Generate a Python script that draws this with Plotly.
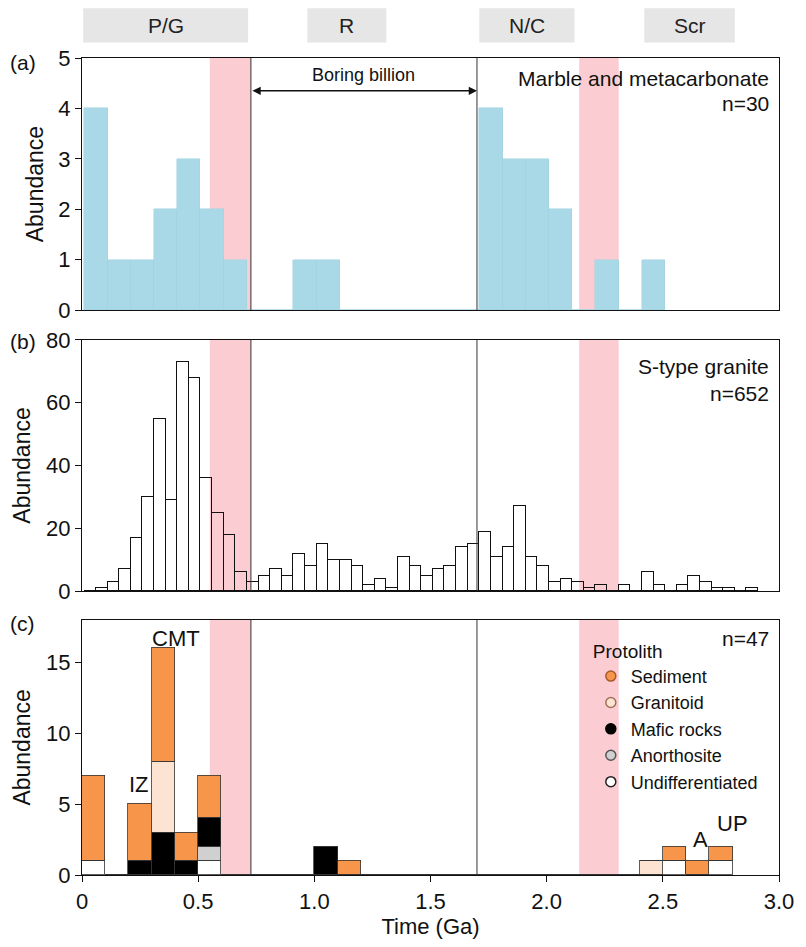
import numpy as np
import plotly.graph_objects as go
from plotly.subplots import make_subplots

# ---------------- data ----------------
# (a) Marble and metacarbonate, 0.1 Ga bins starting at 0.01 Ga
A_START, A_WIDTH = 0.01, 0.1
a_counts = [4, 1, 1, 2, 3, 2, 1, 0, 0, 1, 1, 0, 0, 0, 0, 0, 0,
            4, 3, 3, 2, 0, 1, 0, 1]

# (b) S-type granite, 0.05 Ga bins starting at 0.01 Ga
B_START, B_WIDTH = 0.01, 0.05
b_counts = [0, 1, 3, 7, 17, 30, 55, 29, 73, 68, 36, 25, 18, 6, 3, 5, 7, 5,
            12, 8, 15, 10, 10, 8, 2, 4, 1, 11, 8, 5, 7, 8, 14, 15, 19, 11,
            14, 27, 11, 8, 3, 4, 3, 1, 2, 0, 2, 0, 6, 2, 0, 2, 5, 3, 1, 1,
            0, 1]

# (c) protolith, 0.1 Ga bins starting at 0
C_START, C_WIDTH = 0.0, 0.1
c_undiff   = [1, 0, 0, 0, 0, 1, 0, 0, 0, 0, 0, 0, 0, 0, 0, 0, 0, 0, 0, 0, 0, 0, 0, 0, 0, 1, 0, 1]
c_anorth   = [0, 0, 0, 0, 0, 1, 0, 0, 0, 0, 0, 0, 0, 0, 0, 0, 0, 0, 0, 0, 0, 0, 0, 0, 0, 0, 0, 0]
c_mafic    = [0, 0, 1, 3, 1, 2, 0, 0, 0, 0, 2, 0, 0, 0, 0, 0, 0, 0, 0, 0, 0, 0, 0, 0, 0, 0, 0, 0]
c_granit   = [0, 0, 0, 5, 0, 0, 0, 0, 0, 0, 0, 0, 0, 0, 0, 0, 0, 0, 0, 0, 0, 0, 0, 0, 1, 0, 0, 0]
c_sediment = [6, 0, 4, 8, 2, 3, 0, 0, 0, 0, 0, 1, 0, 0, 0, 0, 0, 0, 0, 0, 0, 0, 0, 0, 0, 1, 1, 1]

supercontinents = ["P/G", "R", "N/C", "Scr"]
sc_start = [0.005, 0.97, 1.71, 2.42]
sc_end = [0.715, 1.31, 2.12, 2.81]

boring_start, boring_end = 0.727, 1.70
bands = [(0.55, 0.727), (2.14, 2.31)]

xtick_vals = [0, 0.5, 1.0, 1.5, 2.0, 2.5, 3.0]
xtick_text = ["0", "0.5", "1.0", "1.5", "2.0", "2.5", "3.0"]

# ---------------- figure ----------------
FONT = "Liberation Sans, Arial, sans-serif"
fig = make_subplots(rows=3, cols=1)

xa = A_START + A_WIDTH * (np.arange(len(a_counts)) + 0.5)
fig.add_trace(go.Bar(x=xa, y=a_counts, width=A_WIDTH, marker=dict(color="#a9d9e6", line=dict(color="#9fd2e0", width=0.5)),
                     showlegend=False, hoverinfo="x+y"), row=1, col=1)

xb = B_START + B_WIDTH * (np.arange(len(b_counts)) + 0.5)
fig.add_trace(go.Bar(x=xb, y=b_counts, width=B_WIDTH,
                     marker=dict(color="rgba(255,255,255,0)", line=dict(color="#111", width=1)),
                     showlegend=False), row=2, col=1)

xc = C_START + C_WIDTH * (np.arange(len(c_sediment)) + 0.5)
cats = [("Undifferentiated", c_undiff, "#ffffff", "#222"),
        ("Anorthosite", c_anorth, "#d0d0d0", "#555"),
        ("Mafic rocks", c_mafic, "#000000", "#000"),
        ("Granitoid", c_granit, "#fde4d2", "#a0705a"),
        ("Sediment", c_sediment, "#f7964a", "#a85a2a")]
for name, vals, col, lc in cats:
    fig.add_trace(go.Bar(x=xc, y=vals, width=C_WIDTH, name=name,
                         marker=dict(color=col, line=dict(color="#333", width=0.8)),
                         showlegend=False), row=3, col=1)
# legend entries (circles), listed Sediment first
for name, vals, col, lc in reversed(cats):
    fig.add_trace(go.Scatter(x=[None], y=[None], mode="markers", name=name,
                             marker=dict(symbol="circle", size=10, color=col, line=dict(color=lc, width=1.5))),
                  row=3, col=1)

fig.update_layout(
    width=806, height=947,
    margin=dict(l=82, r=18, t=58, b=63),
    paper_bgcolor="white", plot_bgcolor="white",
    barmode="stack", bargap=0,
    font=dict(family=FONT, size=21, color="#111"),
    legend=dict(x=0.73, y=0.296, xanchor="left", yanchor="top", traceorder="normal",
                bgcolor="rgba(0,0,0,0)", font=dict(size=18),
                title=dict(text="Protolith", font=dict(size=19)),
                itemwidth=30, tracegroupgap=0),
)

ydoms = [(0.6913, 1.0), (0.3475, 0.6550), (0.0, 0.3123)]
yranges = [[0, 5], [0, 80], [0, 18]]
ytickvals = [[0, 1, 2, 3, 4, 5], [0, 20, 40, 60, 80], [0, 5, 10, 15]]
for i in range(3):
    r = i + 1
    fig.update_yaxes(row=r, col=1, domain=ydoms[i], range=yranges[i], tickvals=ytickvals[i],
                     showline=True, mirror=True, linecolor="#111", linewidth=1.2,
                     ticks="outside", ticklen=6, tickcolor="#111", showgrid=False, zeroline=False,
                     tickfont=dict(size=22),
                     title=dict(text="Abundance", font=dict(size=23), standoff=8))
    fig.update_xaxes(row=r, col=1, range=[0, 3], showline=True, mirror=True, linecolor="#111", linewidth=1.2,
                     showgrid=False, zeroline=False,
                     showticklabels=(r == 3), ticks=("outside" if r == 3 else ""),
                     ticklen=6, tickcolor="#111",
                     tickvals=xtick_vals, ticktext=xtick_text, tickfont=dict(size=22))
fig.update_xaxes(row=3, col=1, title=dict(text="Time (Ga)", font=dict(size=22), standoff=6))

# shapes: red bands and vertical lines in each panel
xrefs = ["x", "x2", "x3"]
yrefs = ["y domain", "y2 domain", "y3 domain"]
for i in range(3):
    for (b0, b1) in bands:
        fig.add_shape(type="rect", xref=xrefs[i], yref=yrefs[i], x0=b0, x1=b1, y0=0, y1=1,
                      fillcolor="#fbcdd2", line=dict(width=0), layer="below")
    for xv in (boring_start, boring_end):
        fig.add_shape(type="line", xref=xrefs[i], yref=yrefs[i], x0=xv, x1=xv, y0=0, y1=1,
                      line=dict(color="#333", width=1), layer="above")

# supercontinent boxes on top
for name, s0, s1 in zip(supercontinents, sc_start, sc_end):
    fig.add_shape(type="rect", xref="x", yref="paper", x0=s0, x1=s1, y0=1.019, y1=1.061,
                  fillcolor="#e6e6e6", line=dict(width=0), layer="below")
    fig.add_annotation(x=(s0 + s1) / 2, y=1.040, xref="x", yref="paper", text=name, showarrow=False,
                       font=dict(size=21, color="#222"), xanchor="center", yanchor="middle")

# Boring billion arrow
fig.add_annotation(x=boring_end, y=4.35, ax=boring_start, ay=4.35, xref="x", yref="y", axref="x", ayref="y",
                   text="", showarrow=True, arrowhead=2, arrowsize=1.1, arrowwidth=1.5, arrowside="end+start",
                   arrowcolor="#111")
fig.add_annotation(x=(boring_start + boring_end) / 2, y=4.66, xref="x", yref="y", text="Boring billion",
                   showarrow=False, font=dict(size=18), xanchor="center", yanchor="middle")

# panel texts
def txt(text, x, y, xref, yref, size=21, xanchor="right"):
    fig.add_annotation(text=text, x=x, y=y, xref=xref, yref=yref, showarrow=False,
                       font=dict(size=size), xanchor=xanchor, yanchor="middle")

txt("Marble and metacarbonate", 0.989, 0.92, "x domain", "y domain")
txt("n=30", 0.989, 0.82, "x domain", "y domain")
txt("S-type granite", 0.989, 0.894, "x2 domain", "y2 domain")
txt("n=652", 0.989, 0.787, "x2 domain", "y2 domain")
txt("n=47", 0.989, 0.926, "x3 domain", "y3 domain")

txt("CMT", 0.405, 16.7, "x3", "y3", 22, "center")
txt("IZ", 0.247, 6.4, "x3", "y3", 22, "center")
txt("A", 2.66, 2.5, "x3", "y3", 22, "center")
txt("UP", 2.80, 3.6, "x3", "y3", 22, "center")

for lab, yy in (("(a)", 0.995), ("(b)", 0.6525), ("(c)", 0.3075)):
    txt(lab, -0.085, yy, "paper", "paper", 21, "center")

fig.write_html("out.html")
